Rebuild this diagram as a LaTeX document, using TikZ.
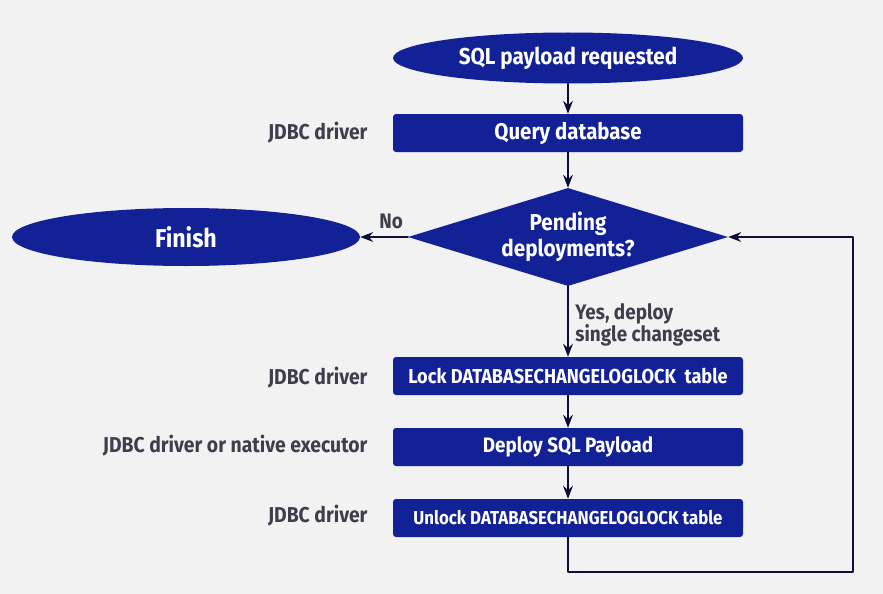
\documentclass[tikz,border=0pt]{standalone}
\usepackage{fontspec}
\setmainfont{Fira Sans}
\newfontfamily\narrowfont[FakeStretch=0.9]{Fira Sans}
\usetikzlibrary{arrows.meta, shapes.geometric}

\definecolor{boxblue}{RGB}{18,34,150}
\definecolor{linenavy}{RGB}{14,14,58}
\definecolor{labelgray}{RGB}{62,62,76}
\definecolor{bggray}{RGB}{242,242,242}

\newcommand{\fsz}[1]{\narrowfont\bfseries\fontsize{#1}{#1}\selectfont}

\begin{document}
\begin{tikzpicture}[x=1pt, y=-1pt, >=Stealth, line cap=round, line join=round,
    stepbox/.style={rectangle, rounded corners=3pt, fill=boxblue, text=white,
      minimum width=350pt, minimum height=38pt, inner sep=0pt},
    endcap/.style={ellipse, fill=boxblue, text=white, inner sep=0pt},
    sidenote/.style={anchor=east, text=labelgray, font=\fsz{21.5}},
    flow/.style={->, line width=2.2pt, draw=linenavy}]
    % background
    \fill[bggray] (0,0) rectangle (883,594);
    \useasboundingbox (0,0) rectangle (883,594);

    % main column
    \node[endcap, minimum width=350pt, minimum height=51pt, font=\fsz{23}]
      (request) at (568,58) {SQL payload requested};
    \node[stepbox, font=\fsz{22.7}] (query) at (568,133) {Query database};
    \node[diamond, aspect=3.2, fill=boxblue, text=white, inner sep=0pt,
      minimum width=320pt, minimum height=98pt, align=center,
      font=\narrowfont\bfseries\fontsize{23}{26}\selectfont] (pending) at (568,237) {Pending\\deployments?};
    \node[endcap, minimum width=348pt, minimum height=58pt, font=\fsz{25.8}]
      (finish) at (186,237) {Finish};
    \node[stepbox, font=\fsz{20.2}] (lock) at (568,376) {Lock DATABASECHANGELOGLOCK\ \ table};
    \node[stepbox, font=\fsz{20.9}] (deploy) at (568,447) {Deploy SQL Payload};
    \node[stepbox, font=\fsz{18.7}] (unlock) at (568,518) {Unlock DATABASECHANGELOGLOCK table};

    % what runs each step
    \node[sidenote] (drvquery) at (371,133) {JDBC driver};
    \node[sidenote] (drvlock) at (371,378) {JDBC driver};
    \node[sidenote] (drvdeploy) at (371,446) {JDBC driver or native executor};
    \node[sidenote] (drvunlock) at (371,516) {JDBC driver};

    % connectors
    \draw[flow] (request) -- (query);
    \draw[flow] (query) -- (pending);
    \draw[flow] (pending) -- (finish) node[pos=0.35, above=4pt, text=labelgray,
      font=\fsz{21}] (nolabel) {No};
    \draw[flow] (pending) -- (lock) node[pos=0.55, right=3pt, align=left, text=labelgray,
      font=\narrowfont\bfseries\fontsize{21}{22}\selectfont] (yeslabel) {Yes, deploy\\single changeset};
    \draw[flow] (lock) -- (deploy);
    \draw[flow] (deploy) -- (unlock);

    % back to the decision
    \coordinate (loopcorner) at (853,572);
    \draw[flow] (unlock.south) |- (loopcorner) |- (pending.east);
\end{tikzpicture}
\end{document}
